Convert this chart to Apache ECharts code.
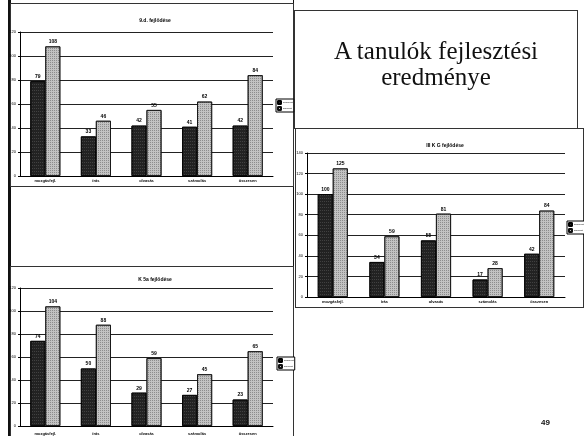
<!DOCTYPE html>
<html>
<head>
<meta charset="utf-8">
<script src="https://cdn.jsdelivr.net/npm/echarts@6/dist/echarts.min.js"></script>
<style>
  html, body { margin: 0; padding: 0; background: #fff; }
  .page { position: relative; width: 584px; height: 436px; overflow: hidden; background: #fff; }
  .box { position: absolute; border: 1px solid #333; box-sizing: border-box; }
  .rule { position: absolute; background: #111; }
  #chart { position: absolute; left: 0; top: 0; width: 584px; height: 436px; }
  .heading {
    position: absolute; left: 294px; top: 38px; width: 284px;
    font-family: "Liberation Serif", "DejaVu Serif", serif;
    font-size: 25px; line-height: 26px; text-align: center; color: #111;
  }
  .pageno {
    position: absolute; left: 541px; top: 418px;
    font-family: "Liberation Sans", Arial, sans-serif; font-weight: bold; font-size: 8px; color: #111;
  }
</style>
</head>
<body>
<div class="page">
  <div class="rule" style="left:8px;top:0;width:3px;height:436px"></div>
  <div class="rule" style="left:293px;top:0;width:1px;height:436px"></div>
  <div class="box" style="left:10px;top:3px;width:284px;height:184px"></div>
  <div class="box" style="left:294px;top:10px;width:284px;height:119px"></div>
  <div class="box" style="left:295px;top:128px;width:289px;height:180px"></div>
  <div class="box" style="left:10px;top:266px;width:284px;height:175px"></div>
  <div id="chart"></div>
  <div class="heading">A tanulók fejlesztési<br>eredménye</div>
  <div class="pageno">49</div>
</div>
<script>
  // categories + series names
  const categories = ['mozgásfejl.', 'írás', 'olvasás', 'számolás', 'összesen']
  const seriesNames = ['bemenet', 'kimenet']

  // chart A (top left)
  const titleA = '9.d. fejlődése'
  const beforeA = [79, 33, 42, 41, 42]
  const afterA = [108, 46, 55, 62, 84]

  // chart B (right)
  const titleB = 'III K G fejlődése'
  const beforeB = [100, 34, 55, 17, 42]
  const afterB = [125, 59, 81, 28, 84]

  // chart C (bottom left)
  const titleC = 'K 5a fejlődése'
  const beforeC = [74, 50, 29, 27, 23]
  const afterC = [104, 88, 59, 45, 65]

  const chart = echarts.init(document.getElementById('chart'))

  const grids = [
    { left: 20, top: 32, width: 253, height: 144 },
    { left: 307, top: 153, width: 258, height: 144 },
    { left: 20, top: 288, width: 253, height: 144 }
  ]
  const maxes = [120, 140, 120]

  const darkStyle = {
    color: '#222',
    borderColor: '#000',
    borderWidth: 0.8,
    decal: { color: 'rgba(255,255,255,0.14)', symbol: 'rect', symbolSize: 1, dashArrayX: [1, 1], dashArrayY: [1, 2] }
  }
  const lightStyle = {
    color: '#c2c2c2',
    borderColor: '#111',
    borderWidth: 0.8,
    decal: { color: 'rgba(0,0,0,0.28)', symbol: 'rect', symbolSize: 1, dashArrayX: [1, 1], dashArrayY: [1, 1] }
  }

  const barLabel = { show: true, position: 'top', distance: 2, fontSize: 5, fontWeight: 'bold', color: '#000' }

  const makeSeries = (idx, before, after) => [
    {
      name: seriesNames[0], type: 'bar', xAxisIndex: idx, yAxisIndex: idx,
      barWidth: 15, barGap: '0%', data: before, itemStyle: darkStyle, label: barLabel
    },
    {
      name: seriesNames[1], type: 'bar', xAxisIndex: idx, yAxisIndex: idx,
      barWidth: 15, barGap: '0%', data: after, itemStyle: lightStyle, label: barLabel
    }
  ]

  const makeTitle = (text, x, y) => ({
    text, left: x, top: y, textAlign: 'center',
    textStyle: { fontSize: 5, fontWeight: 'bold', color: '#000', fontFamily: 'Liberation Sans' }
  })

  const makeLegend = (x, y) => ({
    data: seriesNames, left: x, top: y, orient: 'vertical',
    itemWidth: 3, itemHeight: 3, itemGap: 1, padding: [1, 1],
    borderColor: '#000', borderWidth: 1, backgroundColor: '#fff',
    textStyle: { fontSize: 2.5, color: '#000', padding: [0, 0, 0, -3] },
    selectedMode: false
  })

  const option = {
    animation: false,
    textStyle: { fontFamily: 'Liberation Sans' },
    title: [
      makeTitle(titleA, 150, 13),
      makeTitle(titleB, 440, 138),
      makeTitle(titleC, 150, 272)
    ],
    legend: [
      makeLegend(276, 99),
      makeLegend(567, 221),
      makeLegend(277, 357)
    ],
    grid: grids,
    xAxis: grids.map((g, i) => ({
      type: 'category', gridIndex: i, data: categories,
      axisLine: { lineStyle: { color: '#000', width: 1 } },
      axisTick: { show: false },
      axisLabel: { fontSize: 4, fontWeight: 'bold', color: '#000', margin: i === 2 ? 6 : 3 }
    })),
    yAxis: grids.map((g, i) => ({
      type: 'value', gridIndex: i, min: 0, max: maxes[i], interval: 20,
      axisLine: { show: true, lineStyle: { color: '#000', width: 1 } },
      axisTick: { show: true, length: 2, lineStyle: { color: '#000' } },
      axisLabel: { fontSize: 4, color: '#000', margin: 4 },
      splitLine: { lineStyle: { color: '#222', width: 1 } }
    })),
    series: [
      ...makeSeries(0, beforeA, afterA),
      ...makeSeries(1, beforeB, afterB),
      ...makeSeries(2, beforeC, afterC)
    ]
  }

  chart.setOption(option)
</script>
</body>
</html>
